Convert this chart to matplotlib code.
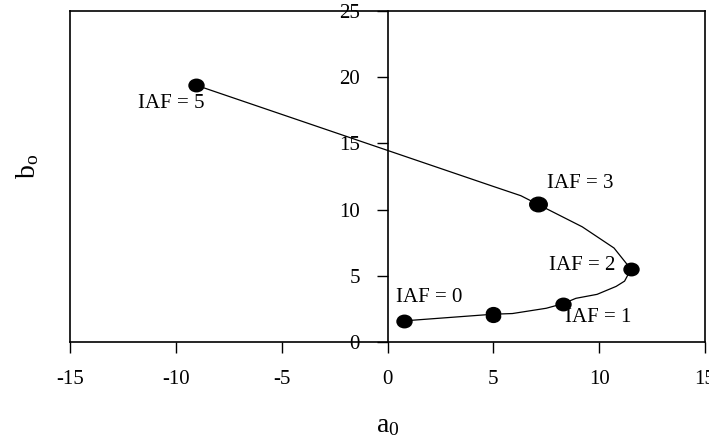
import matplotlib
matplotlib.use('Agg')
import matplotlib.pyplot as plt
from matplotlib.markers import MarkerStyle
from matplotlib.transforms import Affine2D

plt.rcParams['font.family'] = 'Liberation Serif'
plt.rcParams['mathtext.fontset'] = 'custom'
plt.rcParams['mathtext.rm'] = 'Liberation Serif'
plt.rcParams['axes.unicode_minus'] = False

# --- data ---
# path of the thin line (a0, bo)
curve_a = [0.8, 5.0, 5.9, 7.5, 8.3, 8.9, 9.9, 10.8, 11.2, 11.5, 10.7, 9.2, 7.1, 6.3, 5.0, -9.05]
curve_b = [1.6, 2.1, 2.15, 2.55, 2.9, 3.3, 3.6, 4.2, 4.6, 5.5, 7.1, 8.7, 10.4, 11.05, 11.75, 19.4]

# filled markers
point_a = [0.8, 5.0, 5.0, 8.3, 11.5, 7.1, -9.05]
point_b = [1.6, 1.95, 2.2, 2.9, 5.5, 10.4, 19.4]
point_size = [9, 8.5, 8.5, 9, 9, 10.5, 9]

# labels beside the points
label_text = ['IAF = 0', 'IAF = 1', 'IAF = 2', 'IAF = 3', 'IAF = 5']
label_a = [1.95, 9.95, 9.2, 9.1, -10.2]
label_b = [3.35, 1.85, 5.8, 12.0, 18.05]

x_ticks = [-15, -10, -5, 0, 5, 10, 15]
y_ticks = [0, 5, 10, 15, 20, 25]

fig = plt.figure(figsize=(7.09, 4.44), dpi=100)
ax = fig.add_axes([0.0987, 0.2297, 0.8957, 0.7455])

ax.plot(curve_a, curve_b, color='black', lw=0.9)
oval = MarkerStyle('o', transform=Affine2D().scale(1.2, 1.0))
for a, b, s in zip(point_a, point_b, point_size):
    ax.plot(a, b, marker=oval, ms=s, color='black', ls='none')

for t, a, b in zip(label_text, label_a, label_b):
    ax.text(a, b, t, ha='center', va='center', fontsize=15)

ax.set_xlim(-15, 15)
ax.set_ylim(0, 25)
ax.set_xticks(x_ticks)
ax.set_yticks(y_ticks)

# y axis sits at a0 = 0, frame kept around the plot
ax.spines['left'].set_position(('data', 0))
ax.axvline(-15, color='black', lw=1.2, clip_on=False)
for sp in ax.spines.values():
    sp.set_linewidth(1.2)

ax.tick_params(axis='x', direction='out', length=8, width=1, pad=12, labelsize=15)
ax.tick_params(axis='y', direction='out', length=8, width=1, pad=12, labelsize=15)
ax.tick_params(right=False, top=False)

ax.set_xlabel(r'$\mathregular{a_0}$', fontsize=20)
ax.set_ylabel(r'$\mathregular{b_o}$', fontsize=20)
ax.xaxis.set_label_coords(0.5, -0.215)
ax.yaxis.set_label_coords(-0.046, 0.53)

fig.savefig('out.png', dpi=100)
